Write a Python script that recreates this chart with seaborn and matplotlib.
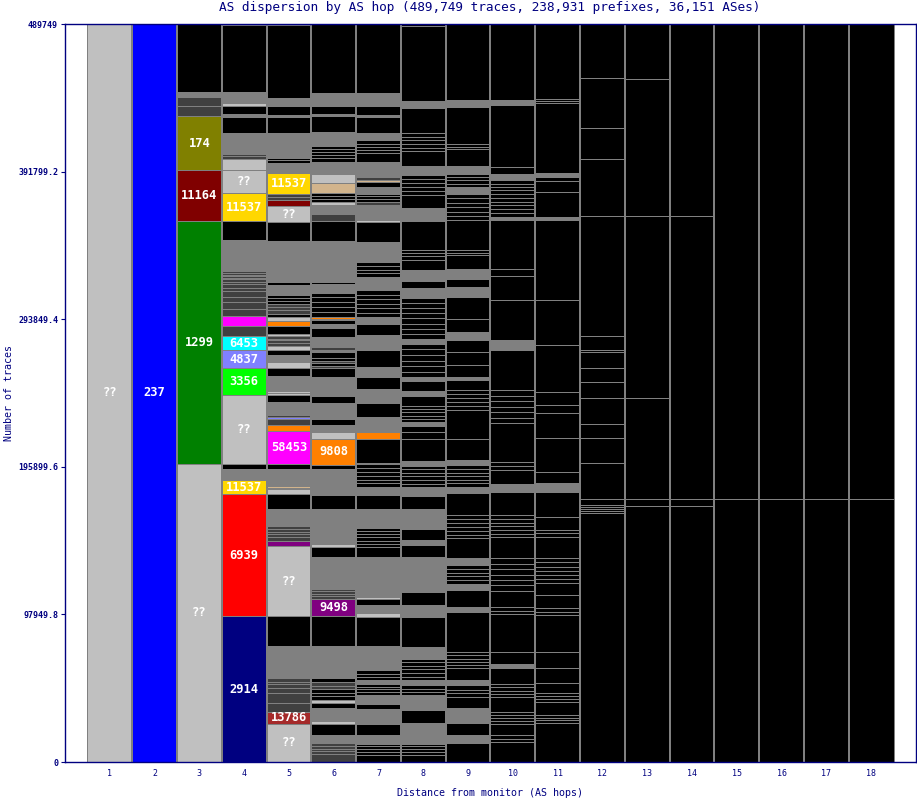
import matplotlib
matplotlib.use("Agg")
import matplotlib.pyplot as plt
import seaborn as sns
import pandas as pd

TOTAL_TRACES = 489749
hops = list(range(1, 19))
title = "AS dispersion by AS hop (489,749 traces, 238,931 prefixes, 36,151 ASes)"
x_label = "Distance from monitor (AS hops)"
y_label = "Number of traces"
ytick_values = [0, 97949.8, 195899.6, 293849.4, 391799.2, 489749]
ytick_labels = ["0", "97949.8", "195899.6", "293849.4", "391799.2", "489749"]

palette = {
    "K": "#000000", "G": "#808080", "L": "#c0c0c0", "D": "#404040",
    "olive": "#808000", "maroon": "#800000", "green": "#008000", "blue": "#0000ff",
    "navy": "#000080", "gold": "#ffd700", "red": "#ff0000", "magenta": "#ff00ff",
    "cyan": "#00ffff", "peri": "#8080ff", "lime": "#00ff00", "orange": "#ff8000",
    "purple": "#800080", "brown": "#a52a2a", "tan": "#d2b48c",
}

# segments per hop, bottom to top: (colour key, traces[, AS label])
hop1 = [("L", 489749, "??")]
hop2 = [("blue", 489749, "237")]
hop3 = [("L", 197800, "??"), ("green", 161300, "1299"), ("maroon", 33800, "11164"),
        ("olive", 35500, "174"), ("D", 7000), ("D", 6000), ("G", 3300), ("K", 45100)]
hop4 = [("navy", 96800, "2914"), ("red", 80800, "6939"), ("gold", 9300, "11537"),
        ("G", 7600), ("K", 3000), ("L", 45800, "??"), ("lime", 18100, "3356"),
        ("peri", 11900, "4837"), ("cyan", 9300, "6453"), ("D", 7000), ("magenta", 6300),
        ("D", 4850), ("D", 4450), ("D", 3300), ("D", 4000), ("D", 2200), ("D", 2200),
        ("D", 1800), ("D", 1500), ("D", 1100), ("D", 1100), ("D", 1100), ("D", 1100),
        ("D", 1100), ("G", 20600), ("K", 12700), ("gold", 18600, "11537"),
        ("L", 15300, "??"), ("L", 7300), ("D", 1800), ("D", 1800), ("G", 13900),
        ("K", 10300), ("G", 1700), ("K", 5600), ("L", 1700), ("G", 7300), ("K", 45100)]
hop5 = [("L", 25500, "??"), ("brown", 7800, "13786"), ("D", 6000), ("D", 6400),
        ("D", 3300), ("D", 2850), ("D", 1550), ("D", 2250), ("G", 21600), ("K", 19600),
        ("L", 46300, "??"), ("purple", 3600), ("D", 2850), ("D", 1800), ("D", 1550),
        ("D", 1800), ("D", 1550), ("G", 11700), ("K", 9600), ("L", 3650), ("G", 700),
        ("tan", 1300), ("G", 2650), ("K", 700), ("G", 8000), ("K", 3000),
        ("magenta", 21900, "58453"), ("orange", 4300), ("D", 4000), ("peri", 1000),
        ("D", 1650), ("G", 8200), ("K", 4800), ("L", 1200), ("L", 1300), ("G", 10000),
        ("K", 5400), ("L", 3850), ("G", 5100), ("K", 3000), ("L", 3000), ("D", 1800),
        ("D", 1700), ("D", 1100), ("D", 1500), ("L", 1300), ("K", 5600), ("orange", 3650),
        ("L", 2300), ("K", 2300), ("D", 2300), ("D", 2300), ("D", 2000), ("K", 2000),
        ("K", 2000), ("K", 1700), ("K", 1000), ("G", 6000), ("K", 1500), ("G", 27200),
        ("K", 12700), ("L", 10600, "??"), ("maroon", 3800), ("D", 2200), ("D", 2100),
        ("gold", 13600, "11537"), ("G", 7200), ("K", 1700), ("K", 1600), ("G", 16600),
        ("K", 10300), ("G", 1700), ("K", 5400), ("lime", 1050), ("G", 4800), ("K", 48400)]
hop6 = [("D", 5100), ("D", 2000), ("D", 1800), ("D", 1800), ("D", 1700), ("G", 5500),
        ("K", 7300), ("L", 2000), ("G", 8400), ("K", 3700), ("L", 1800), ("K", 2400),
        ("K", 2400), ("K", 2400), ("D", 2400), ("D", 2400), ("K", 2400), ("G", 21600),
        ("K", 19600), ("purple", 11600, "9498"), ("D", 1700), ("D", 1700), ("D", 1700),
        ("D", 1700), ("G", 21000), ("K", 6800), ("L", 2100), ("G", 8800), ("K", 1100),
        ("G", 12800), ("K", 9800), ("G", 9150), ("K", 700), ("G", 1650), ("K", 700),
        ("G", 4650), ("K", 3000), ("orange", 17300, "9808"), ("L", 4650), ("G", 4300),
        ("K", 4000), ("G", 10800), ("K", 4800), ("G", 12500), ("K", 5600), ("D", 1700),
        ("K", 1600), ("D", 1700), ("K", 1600), ("K", 4000), ("G", 1500), ("D", 2200),
        ("G", 6600), ("K", 5600), ("G", 2650), ("K", 2850), ("G", 700), ("orange", 1500),
        ("K", 3200), ("K", 3200), ("K", 3200), ("K", 3200), ("K", 3200), ("G", 5800),
        ("K", 1500), ("G", 12600), ("K", 700), ("G", 13900), ("K", 12700), ("D", 5000),
        ("G", 6000), ("L", 2200), ("K", 2000), ("K", 2000), ("K", 2000), ("tan", 6600),
        ("L", 5800), ("G", 8200), ("K", 2100), ("K", 2100), ("K", 2100), ("K", 2100),
        ("K", 2100), ("G", 9300), ("K", 10300), ("G", 1700), ("K", 5300), ("G", 8400),
        ("K", 46000)]
hop7 = [("K", 4650), ("K", 1900), ("K", 1900), ("K", 1900), ("K", 1900), ("G", 5500),
        ("K", 7750), ("G", 9950), ("K", 3300), ("G", 5500), ("K", 1950), ("K", 1950),
        ("K", 1950), ("K", 1950), ("G", 2200), ("K", 2200), ("K", 2200), ("K", 2200),
        ("G", 15900), ("K", 19600), ("L", 2500), ("G", 5100), ("K", 4450), ("L", 1050),
        ("G", 26500), ("K", 6650), ("K", 2150), ("K", 2150), ("K", 2150), ("K", 2150),
        ("K", 2150), ("K", 2150), ("G", 12150), ("K", 9300), ("G", 5500), ("K", 2500),
        ("K", 2500), ("K", 2500), ("K", 2500), ("K", 2500), ("K", 2500), ("L", 1000),
        ("K", 16050), ("orange", 4400), ("G", 9950), ("K", 9300), ("G", 9550), ("K", 7700),
        ("G", 6650), ("K", 11100), ("G", 9950), ("K", 7750), ("G", 4400), ("K", 2950),
        ("K", 2950), ("K", 2950), ("K", 2950), ("K", 2950), ("K", 2950), ("G", 8800),
        ("K", 2500), ("K", 2500), ("K", 2500), ("K", 2500), ("G", 13300), ("K", 13400),
        ("L", 1450), ("G", 9500), ("D", 2200), ("K", 1850), ("K", 1850), ("K", 1850),
        ("G", 4400), ("K", 3100), ("tan", 1300), ("D", 2200), ("G", 9950), ("K", 5800),
        ("K", 2150), ("K", 2150), ("K", 2150), ("K", 2150), ("G", 4850), ("K", 10600),
        ("G", 1100), ("K", 6000), ("G", 8800), ("K", 45600)]
hop8 = [("K", 4650), ("K", 1900), ("K", 1900), ("K", 1900), ("K", 1900), ("G", 13300),
        ("K", 8800), ("G", 9950), ("K", 2200), ("K", 2200), ("K", 2200), ("G", 3300),
        ("K", 2400), ("K", 2400), ("K", 2400), ("K", 2400), ("K", 2400), ("K", 2400),
        ("G", 7700), ("K", 19900), ("G", 7750), ("K", 8800), ("G", 23200), ("K", 7750),
        ("G", 3300), ("K", 7950), ("G", 13050), ("K", 8800), ("G", 5500), ("K", 2400),
        ("K", 2400), ("K", 2400), ("K", 2400), ("K", 2400), ("K", 2400), ("G", 3300),
        ("K", 14400), ("K", 4400), ("K", 4450), ("G", 2200), ("K", 2200), ("K", 2200),
        ("K", 2200), ("K", 2200), ("K", 2200), ("K", 6650), ("G", 3300), ("K", 6650),
        ("G", 2200), ("K", 3700), ("K", 3700), ("K", 3700), ("K", 3700), ("K", 3700),
        ("K", 3700), ("G", 3300), ("K", 3400), ("K", 3400), ("K", 3400), ("K", 3400),
        ("K", 3400), ("K", 3400), ("K", 3400), ("K", 3400), ("G", 6650), ("K", 4450),
        ("G", 7750), ("K", 6650), ("K", 2200), ("K", 2200), ("K", 2200), ("K", 18800),
        ("G", 8800), ("K", 8900), ("K", 2650), ("K", 2650), ("K", 2650), ("K", 2650),
        ("K", 2650), ("G", 5500), ("K", 9950), ("K", 2400), ("K", 2400), ("K", 2400),
        ("K", 2400), ("K", 2400), ("K", 17050), ("G", 4450), ("K", 50000)]
hop9 = [("K", 12400), ("G", 5500), ("K", 7750), ("G", 9950), ("K", 7700), ("K", 2200),
        ("K", 2200), ("K", 3300), ("G", 3300), ("K", 7750), ("K", 2200), ("K", 2200),
        ("K", 2200), ("K", 2200), ("K", 2200), ("K", 26550), ("G", 3300), ("K", 11100),
        ("G", 4450), ("K", 2400), ("K", 2400), ("K", 2400), ("K", 2400), ("K", 2400),
        ("G", 4650), ("K", 13300), ("K", 2550), ("K", 2550), ("K", 2550), ("K", 2550),
        ("K", 2550), ("K", 2550), ("K", 14600), ("G", 4200), ("K", 2400), ("K", 2400),
        ("K", 2400), ("K", 2400), ("K", 2400), ("K", 2400), ("G", 3300), ("K", 14400),
        ("K", 18800), ("K", 2650), ("K", 2650), ("K", 2650), ("K", 2650), ("K", 2650),
        ("K", 6650), ("G", 2200), ("K", 7750), ("K", 8800), ("K", 7750), ("G", 5500),
        ("K", 8900), ("K", 14350), ("G", 6650), ("K", 5550), ("G", 6650), ("K", 8800),
        ("K", 1650), ("K", 1650), ("K", 19900), ("K", 2950), ("K", 2950), ("K", 2950),
        ("K", 2950), ("K", 2950), ("K", 2950), ("G", 4400), ("K", 2200), ("K", 2200),
        ("K", 2200), ("K", 2200), ("G", 5500), ("K", 11100), ("K", 1450), ("K", 1450),
        ("K", 25200), ("G", 4450), ("K", 50000)]
hop10 = [("K", 13300), ("K", 2200), ("K", 2200), ("K", 7750), ("K", 1900), ("K", 1900),
         ("K", 1900), ("K", 1900), ("K", 9950), ("K", 2200), ("K", 2200), ("K", 2200),
         ("K", 2200), ("K", 10800), ("G", 2650), ("K", 7500), ("K", 25500), ("K", 2200),
         ("K", 2200), ("K", 11100), ("K", 3550), ("K", 3550), ("K", 3550), ("K", 3550),
         ("K", 3550), ("K", 3550), ("K", 14150), ("K", 2400), ("K", 2400), ("K", 2400),
         ("K", 2400), ("K", 2400), ("K", 2400), ("K", 15450), ("G", 5750), ("K", 8650),
         ("K", 2750), ("K", 2750), ("K", 25700), ("K", 3650), ("K", 3650), ("K", 3650),
         ("K", 3650), ("K", 3650), ("K", 3650), ("K", 26550), ("G", 6650), ("K", 26550),
         ("K", 15900), ("K", 5100), ("K", 32050), ("G", 2200), ("K", 2600), ("K", 2600),
         ("K", 2600), ("K", 2600), ("K", 2600), ("K", 2600), ("K", 2200), ("K", 2200),
         ("K", 2200), ("K", 2200), ("G", 4000), ("K", 4850), ("K", 40950), ("G", 3800),
         ("K", 50000)]
hop11 = [("K", 25700), ("K", 1850), ("K", 1850), ("K", 1850), ("K", 8800), ("K", 1900),
         ("K", 1900), ("K", 1900), ("K", 6450), ("K", 9950), ("K", 11000), ("K", 24350),
         ("K", 2300), ("K", 2300), ("K", 8650), ("K", 7750), ("K", 2800), ("K", 2800),
         ("K", 2800), ("K", 2800), ("K", 2800), ("K", 2800), ("K", 14150), ("K", 2200),
         ("K", 2200), ("K", 8850), ("K", 16600), ("G", 5750), ("K", 7500), ("K", 22150),
         ("K", 16600), ("K", 5500), ("K", 8850), ("K", 31000), ("K", 29850), ("K", 53100),
         ("G", 1800), ("K", 17000), ("K", 7100), ("K", 2850), ("G", 2250), ("K", 46450),
         ("K", 1300), ("K", 1300), ("K", 50000)]
hop12 = [("K", 165250), ("K", 1300), ("K", 1300), ("K", 1300), ("K", 1300), ("K", 4200),
         ("K", 23700), ("K", 16800), ("K", 9300), ("K", 17250), ("K", 10200), ("K", 9300),
         ("K", 11000), ("K", 1100), ("K", 9100), ("K", 79850), ("K", 37650), ("K", 20550),
         ("K", 33200), ("K", 36050)]
hop13 = [("K", 169900), ("K", 4850), ("K", 67000), ("K", 120600), ("K", 90700), ("K", 36700)]
hop14 = [("K", 169900), ("K", 4850), ("K", 187600), ("K", 127400)]
hop15 = [("K", 174750), ("K", 315000)]
hop16 = [("K", 174750), ("K", 315000)]
hop17 = [("K", 174750), ("K", 315000)]
hop18 = [("K", 174750), ("K", 315000)]

hop_segments = [hop1, hop2, hop3, hop4, hop5, hop6, hop7, hop8, hop9, hop10,
                hop11, hop12, hop13, hop14, hop15, hop16, hop17, hop18]

rows = []
for hop, segs in zip(hops, hop_segments):
    for seg in segs:
        rows.append({"hop": hop, "color": seg[0], "traces": seg[1],
                     "label": seg[2] if len(seg) > 2 else ""})
df = pd.DataFrame(rows)
df["bottom"] = df.groupby("hop")["traces"].cumsum() - df["traces"]

sns.set_theme(style="white")
plt.rcParams["font.family"] = ["DejaVu Sans Mono", "DejaVu Sans"]
NAVY = "#000080"
EDGE = "#808080"

fig = plt.figure(figsize=(9.17, 8.0), dpi=100)
ax = fig.add_axes([65 / 917, 38 / 800, 851 / 917, 738 / 800])

# column backgrounds through seaborn (native numeric x scale)
sns.barplot(x=hops, y=[TOTAL_TRACES] * len(hops), native_scale=True, width=1,
            color="black", saturation=1, errorbar=None, edgecolor=EDGE,
            linewidth=0.72, ax=ax)

# stacked AS segments
ax.bar(df["hop"], df["traces"], bottom=df["bottom"], width=1,
       color=[palette[c] for c in df["color"]], edgecolor=EDGE, linewidth=0.72,
       antialiased=False)

# column separators (each column has its own outline in the original)
ax.vlines([h + 0.5 for h in hops[:-1]], 0, TOTAL_TRACES, colors=EDGE,
          linewidth=1.1, zorder=5, antialiased=False)

for _, r in df[df["label"] != ""].iterrows():
    ax.text(r["hop"], r["bottom"] + r["traces"] / 2, r["label"], ha="center",
            va="center", color="white", fontsize=8.7, fontweight="bold",
            family="DejaVu Sans Mono", zorder=6)

ax.set_xlim(0, 19)
ax.set_ylim(0, TOTAL_TRACES)
ax.set_xticks(hops)
ax.set_xticklabels([str(h) for h in hops], fontsize=6, color=NAVY)
ax.set_yticks(ytick_values)
ax.set_yticklabels(ytick_labels, fontsize=6, color=NAVY, fontweight="bold")
ax.tick_params(axis="y", which="both", direction="out", length=3, width=0.8,
               color=NAVY, left=True, pad=2)
ax.tick_params(axis="x", which="both", length=0, pad=5)
ax.set_xlabel("")
ax.set_ylabel("")
for sp in ax.spines.values():
    sp.set_color(NAVY)
    sp.set_linewidth(1.0)
    sp.set_visible(True)
    sp.set_zorder(7)

fig.text(490 / 917, 1 - 8 / 800, title, ha="center", va="center", color=NAVY,
         fontsize=9.2)
fig.text(490 / 917, 1 - 793 / 800, x_label, ha="center", va="center", color=NAVY,
         fontsize=7.2)
fig.text(9 / 917, 1 - 393 / 800, y_label, ha="center", va="center", color=NAVY,
         fontsize=7.2, rotation=90)

fig.savefig("out.png", dpi=100)
